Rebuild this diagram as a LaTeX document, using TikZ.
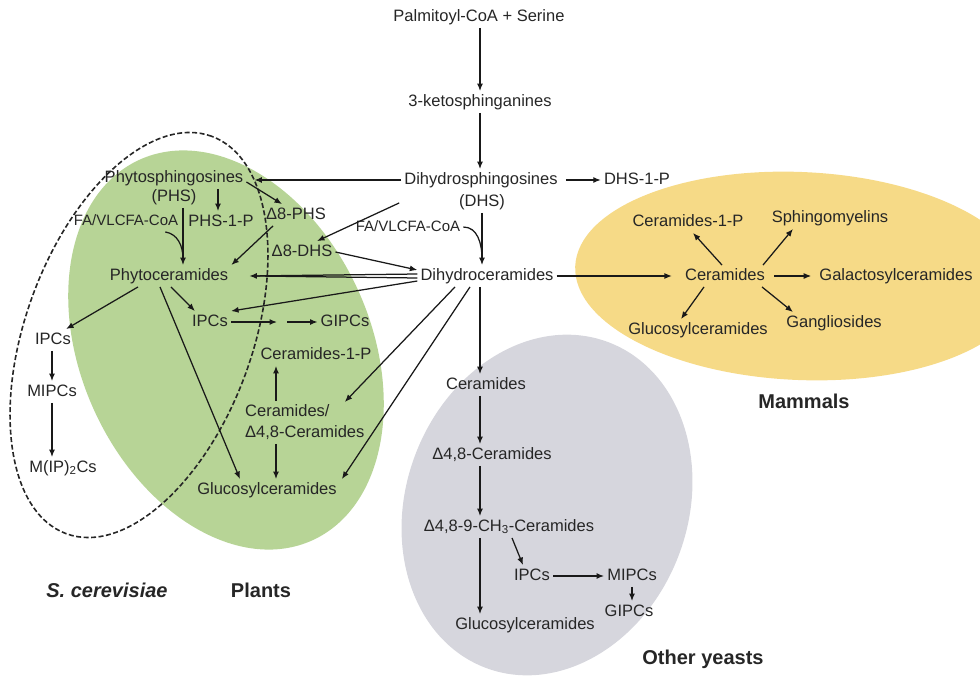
\documentclass[tikz,border=0pt]{standalone}
\usepackage{fontspec}
\setmainfont{Liberation Sans}
\usetikzlibrary{arrows.meta}

\definecolor{plantgreen}{RGB}{183,212,150}
\definecolor{mammalyellow}{RGB}{246,218,135}
\definecolor{yeastgrey}{RGB}{214,214,221}

\begin{document}
\begin{tikzpicture}[x=1pt,y=-1pt,
  every node/.style={font=\fontsize{16.5}{20}\selectfont, text=black!85, inner sep=3pt, text height=12pt, text depth=3.5pt},
  cofactor/.style={font=\fontsize{15}{18}\selectfont},
  taxon/.style={font=\fontsize{20}{24}\selectfont\bfseries},
  link/.style={line width=1.25pt, black!90},
  arr/.style={link, -{Latex[length=7.5pt,width=6pt]}}]

\useasboundingbox (0,0) rectangle (980,677);

% organism areas
\begin{scope}
\clip (0,0) rectangle (980,677);
\fill[plantgreen, rotate around={-65.6:(226,350)}] (226,350) ellipse [x radius=209pt, y radius=145pt];
\fill[yeastgrey, rotate around={69.5:(547,505)}] (547,505) ellipse [x radius=174pt, y radius=141pt];
\fill[mammalyellow, rotate around={-2.5:(800,276)}] (800,276) ellipse [x radius=225pt, y radius=104pt];
\draw[black!85, line width=1.6pt, dash pattern=on 5pt off 2.5pt, rotate around={69.9:(139,335)}] (139,335) ellipse [x radius=211.6pt, y radius=113.4pt];
\end{scope}

% common trunk
\node (pcoa) at (479,17) {Palmitoyl-CoA + Serine};
\node (keto) at (480,102) {3-ketosphinganines};
\node (dhs) at (481,180) {Dihydrosphingosines};
\node (dhsab) at (482,202) {(DHS)};
\node (dhs1p) at (637,180) {DHS-1-P};
\node[cofactor] (fa2) at (408,227) {FA/VLCFA-CoA};
\node (dhcer) at (487,276) {Dihydroceramides};

% plants
\node (phs) at (174,178) {Phytosphingosines};
\node (phsab) at (174,197) {(PHS)};
\node[cofactor] (fa1) at (126,221) {FA/VLCFA-CoA};
\node (phs1p) at (221,222) {PHS-1-P};
\node (d8phs) at (296,215) {Δ8-PHS};
\node (d8dhs) at (302,252) {Δ8-DHS};
\node (phcer) at (169,276) {Phytoceramides};
\node (pipc) at (210,322) {IPCs};
\node (pgipc) at (345,322) {GIPCs};
\node (pcer1p) at (316,355) {Ceramides-1-P};
\node[anchor=west] (pcerA) at (242,412) {Ceramides/};
\node[anchor=west] (pcerB) at (242,433) {Δ4,8-Ceramides};
\node (pgluco) at (267,490) {Glucosylceramides};

% S. cerevisiae
\node (sipc) at (53,340) {IPCs};
\node (smipc) at (52,392) {MIPCs};
\node (smip2c) at (63,468) {M(IP)\textsubscript{2}Cs};

% other yeasts
\node (ocer) at (486,385) {Ceramides};
\node (od48) at (492,455) {Δ4,8-Ceramides};
\node (od489) at (509,527) {Δ4,8-9-CH\textsubscript{3}-Ceramides};
\node (oipc) at (532,576) {IPCs};
\node (omipc) at (632,576) {MIPCs};
\node (ogipc) at (629,612) {GIPCs};
\node (ogluco) at (525,625) {Glucosylceramides};

% mammals
\node (mcer) at (725,276) {Ceramides};
\node (mcer1p) at (688,222) {Ceramides-1-P};
\node (msm) at (830,218) {Sphingomyelins};
\node (mgal) at (896,276) {Galactosylceramides};
\node (mglu) at (698,330) {Glucosylceramides};
\node (mgan) at (834,323) {Gangliosides};

\node[taxon] (lsc) at (107,593) {\itshape S. cerevisiae};
\node[taxon] (lpl) at (261,593) {Plants};
\node[taxon] (lma) at (804,404) {Mammals};
\node[taxon] (loy) at (703,660) {Other yeasts};

% columns of the vertical arrows
\coordinate (ox) at (480,0);
\coordinate (px) at (276,0);
\coordinate (sx) at (52,0);
\coordinate (phx) at (183,0);
\coordinate (p1x) at (218,0);
\coordinate (pgap1) at (277,322);
\coordinate (pgap2) at (287,322);

\draw[arr] (keto.north |- pcoa.south) -- (keto.north);
\draw[arr] (keto.south) -- (keto.south |- dhs.north);
\draw[arr] ([xshift=5pt]dhs.east) -- (dhs1p);
\draw[arr] (dhs.west) -- ([xshift=8pt]dhs.west -| phs.east);
\draw[arr] ([shift={(-2pt,-12pt)}]dhs.south west) -- ([xshift=15pt]d8dhs.north);
\draw[arr] (dhsab.south) -- (dhsab.south |- dhcer.north);
\draw[link] (fa2.east) .. controls +(14,0) and +(0,-16) .. ([yshift=6pt]dhsab.south |- dhcer.north);

\draw[arr] ([yshift=-4pt]phs.east) -- ([xshift=-14pt]d8phs.north);
\draw[arr] (p1x |- phs.south) -- (p1x |- phs1p.north);
\draw[arr] (phx |- phsab.south) -- (phx |- phcer.north);
\draw[link] ([xshift=-16pt]fa1.south east) .. controls +(12,2) and +(0,-14) .. ([yshift=6pt]phx |- phcer.north);
\draw[arr] ([xshift=-23pt]d8phs.south) -- (phcer.north east);
\draw[arr] (d8dhs.east) -- ([yshift=6pt]dhcer.west);
\draw[arr] ([yshift=2pt]dhcer.west) -- ([xshift=18pt]dhcer.west -| phcer.east);
\draw[link] ([yshift=-2pt]dhcer.west) -- ([xshift=24pt]dhcer.west -| phcer.east);
\draw[arr] ([yshift=-5pt]dhcer.west) -- (pipc.north east);
\draw[arr] ([xshift=2pt]phcer.south) -- ([xshift=6pt]pipc.north west);
\draw[arr] ([xshift=-31pt]phcer.south) -- ([xshift=-8pt]sipc.north east);
\draw[arr] ([xshift=-9pt]phcer.south) -- ([xshift=-27pt]pgluco.north);
\draw[arr] (pipc) -- (pgap1);
\draw[arr] (pgap2) -- (pgipc);
\draw[arr] (px |- pcerA.north) -- (px |- pcer1p.south);
\draw[arr] (px |- pcerB.south) -- (px |- pgluco.north);
\draw[arr] ([xshift=-32pt]dhcer.south) -- ([shift={(12pt,10pt)}]pcerA.east);
\draw[arr] ([xshift=-17pt]dhcer.south) -- ([xshift=2pt]pgluco.north east);

\draw[arr] (sx |- sipc.south) -- (sx |- smipc.north);
\draw[arr] (sx |- smipc.south) -- (sx |- smip2c.north);

\draw[arr] (ox |- dhcer.south) -- (ox |- ocer.north);
\draw[arr] (ox |- ocer.south) -- (ox |- od48.north);
\draw[arr] (ox |- od48.south) -- (ox |- od489.north);
\draw[arr] (ox |- od489.south) -- (ox |- ogluco.north);
\draw[arr] ([xshift=3pt]od489.south) -- ([xshift=-9pt]oipc.north);
\draw[arr] (oipc) -- (omipc);
\draw[arr] (omipc.south) -- (omipc.south |- ogipc.north);

\draw[arr] (dhcer.east) -- ([xshift=-10pt]mcer.west |- dhcer.east);
\draw[arr] ([xshift=-3pt]mcer.north) -- ([xshift=5pt]mcer1p.south);
\draw[arr] ([xshift=38pt]mcer.north) -- ([xshift=-37pt]msm.south);
\draw[arr] ([xshift=6pt]mcer.east) -- ([xshift=-5pt]mgal.west);
\draw[arr] ([xshift=-21pt]mcer.south) -- ([xshift=-17pt]mglu.north);
\draw[arr] ([xshift=37pt]mcer.south) -- ([xshift=-41pt]mgan.north);

\end{tikzpicture}
\end{document}
